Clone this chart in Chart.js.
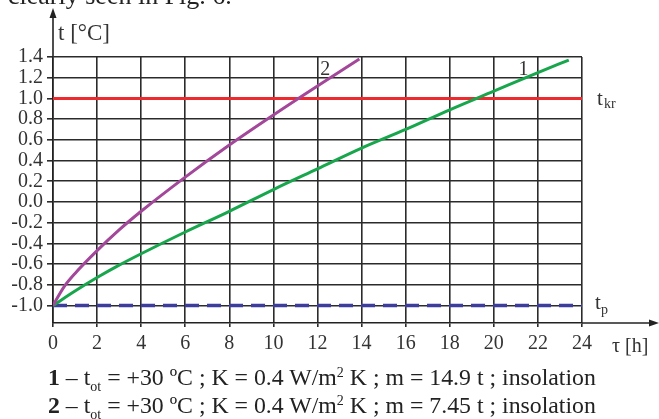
<!DOCTYPE html>
<html>
<head>
<meta charset="utf-8">
<script src="https://cdn.jsdelivr.net/npm/chart.js@4/dist/chart.umd.min.js"></script>
<style>
	html, body { margin: 0; padding: 0; background: #fff; }
	#wrap { position: relative; width: 659px; height: 419px; overflow: hidden; }
	#demo { position: absolute; left: 0; top: 0; }
	.txt { position: absolute; font-family: 'Liberation Serif', serif; color: #222; white-space: nowrap; }
	.head { left: 8px; top: -17px; font-size: 26px; line-height: 26px; }
	.leg { left: 48px; font-size: 23.8px; line-height: 28px; }
	.leg sub { font-size: 14px; vertical-align: -6px; line-height: 0; }
	.leg sup { font-size: 14px; vertical-align: 8px; line-height: 0; }
</style>
</head>
<body>
<div id="wrap">
	<canvas id="demo" width="659" height="419"></canvas>
	<div class="txt head">clearly seen in Fig. 6.</div>
	<div class="txt leg" style="top:363px"><b>1</b> – t<sub>ot</sub> = +30 ºC ; K = 0.4 W/m<sup>2</sup> K ; m = 14.9 t ; insolation</div>
	<div class="txt leg" style="top:391px"><b>2</b> – t<sub>ot</sub> = +30 ºC ; K = 0.4 W/m<sup>2</sup> K ; m = 7.45 t ; insolation</div>
</div>
<script>
// curve 1 (m = 14.9 t)
const hours1 = [0, 1, 2, 3, 4, 6, 8, 10, 12, 14, 16, 18, 20, 22, 23.4];
const temp1 = [-1.0, -0.86, -0.73, -0.61, -0.50, -0.29, -0.09, 0.12, 0.32, 0.52, 0.70, 0.89, 1.07, 1.25, 1.37];
// curve 2 (m = 7.45 t)
const hours2 = [0, 0.5, 1, 2, 3, 4, 6, 8, 10, 12, 13.9];
const temp2 = [-1.0, -0.82, -0.69, -0.47, -0.27, -0.09, 0.24, 0.55, 0.84, 1.12, 1.38];
// limit lines
const limitHours = [0, 24];
const tKr = [1.0, 1.0];
const tP = [-1.0, -1.0];
// ticks
const xTicks = [0, 2, 4, 6, 8, 10, 12, 14, 16, 18, 20, 22, 24];
const yTicks = [-1.0, -0.8, -0.6, -0.4, -0.2, 0.0, 0.2, 0.4, 0.6, 0.8, 1.0, 1.2, 1.4];

const pts = (xs, ys) => xs.map((v, i) => ({ x: v, y: ys[i] }));
const serif = 'Liberation Serif';

const data_demo = {
	datasets: [
		{
			label: '2',
			data: pts(hours2, temp2),
			borderColor: '#a3479a',
			borderWidth: 3,
			pointRadius: 0,
			cubicInterpolationMode: 'monotone',
		},
		{
			label: '1',
			data: pts(hours1, temp1),
			borderColor: '#18a64c',
			borderWidth: 3,
			pointRadius: 0,
			cubicInterpolationMode: 'monotone',
		},
		{
			label: 'tkr',
			data: pts(limitHours, tKr),
			borderColor: '#ee2a2e',
			borderWidth: 3,
			pointRadius: 0,
		},
		{
			label: 'tp',
			data: pts(limitHours, tP),
			borderColor: '#3d3d9e',
			borderWidth: 3.5,
			borderDash: [14, 8],
			pointRadius: 0,
		},
	]
};

// arrows, axis names and curve labels
const extras = {
	id: 'extras',
	afterDraw(chart) {
		const ctx = chart.ctx;
		const a = chart.chartArea;
		const sx = chart.scales.x, sy = chart.scales.y;
		ctx.save();
		ctx.strokeStyle = '#222';
		ctx.fillStyle = '#222';
		ctx.lineWidth = 1.6;
		// y axis arrow
		ctx.beginPath();
		ctx.moveTo(a.left, a.top);
		ctx.lineTo(a.left, 15);
		ctx.stroke();
		ctx.beginPath();
		ctx.moveTo(a.left, 8);
		ctx.lineTo(a.left - 3.5, 18);
		ctx.lineTo(a.left + 3.5, 18);
		ctx.closePath();
		ctx.fill();
		// x axis arrow
		ctx.beginPath();
		ctx.moveTo(a.right, a.bottom);
		ctx.lineTo(650, a.bottom);
		ctx.stroke();
		ctx.beginPath();
		ctx.moveTo(659, a.bottom);
		ctx.lineTo(649, a.bottom - 3.5);
		ctx.lineTo(649, a.bottom + 3.5);
		ctx.closePath();
		ctx.fill();

		ctx.fillStyle = '#333';
		ctx.textBaseline = 'alphabetic';
		ctx.textAlign = 'left';
		ctx.font = '23px ' + serif;
		ctx.fillText('t [°C]', 58, 40);
		ctx.font = '20px ' + serif;
		ctx.fillText('τ [h]', 612, 352);

		// curve numbers
		ctx.textAlign = 'center';
		ctx.font = '20px ' + serif;
		ctx.fillText('2', sx.getPixelForValue(12.35), sy.getPixelForValue(1.225));
		ctx.fillText('1', sx.getPixelForValue(21.35), sy.getPixelForValue(1.225));

		// t_kr and t_p
		ctx.textAlign = 'left';
		const y1 = sy.getPixelForValue(1.0);
		const y2 = sy.getPixelForValue(-1.0);
		ctx.font = '21px ' + serif;
		ctx.fillText('t', 597, y1 + 7);
		ctx.fillText('t', 595, y2 + 3);
		ctx.font = '14px ' + serif;
		ctx.fillText('kr', 604, y1 + 10);
		ctx.fillText('p', 601, y2 + 8);
		ctx.restore();
	}
};

const config_demo = {
	type: 'line',
	data: data_demo,
	plugins: [extras],
	options: {
		responsive: false,
		animation: false,
		layout: {
			padding: { left: 0, top: 57, right: 77, bottom: 66 }
		},
		plugins: {
			legend: { display: false },
			tooltip: { enabled: false },
			title: { display: false }
		},
		scales: {
			x: {
				type: 'linear',
				min: 0,
				max: 24,
				afterBuildTicks: (scale) => { scale.ticks = xTicks.map(v => ({ value: v })); },
				afterFit: (scale) => { scale.height = 30; },
				ticks: {
					color: '#333',
					font: { family: serif, size: 20 },
					padding: 5,
					maxRotation: 0,
					autoSkip: false
				},
				grid: {
					color: '#2b2b2b',
					lineWidth: 1.6,
					tickLength: 4
				},
				border: { color: '#222', width: 1.6 }
			},
			y: {
				type: 'linear',
				min: -1.169,
				max: 1.4,
				afterBuildTicks: (scale) => { scale.ticks = yTicks.map(v => ({ value: v })); },
				afterFit: (scale) => { scale.width = 53; },
				ticks: {
					color: '#333',
					font: { family: serif, size: 20 },
					padding: 4,
					autoSkip: false,
					callback: (v) => v.toFixed(1)
				},
				grid: {
					color: '#2b2b2b',
					lineWidth: 1.6,
					tickLength: 6
				},
				border: { color: '#222', width: 1.6 }
			}
		}
	},
};

const demo = new Chart(
	document.getElementById('demo'),
	config_demo
);
</script>
</body>
</html>
